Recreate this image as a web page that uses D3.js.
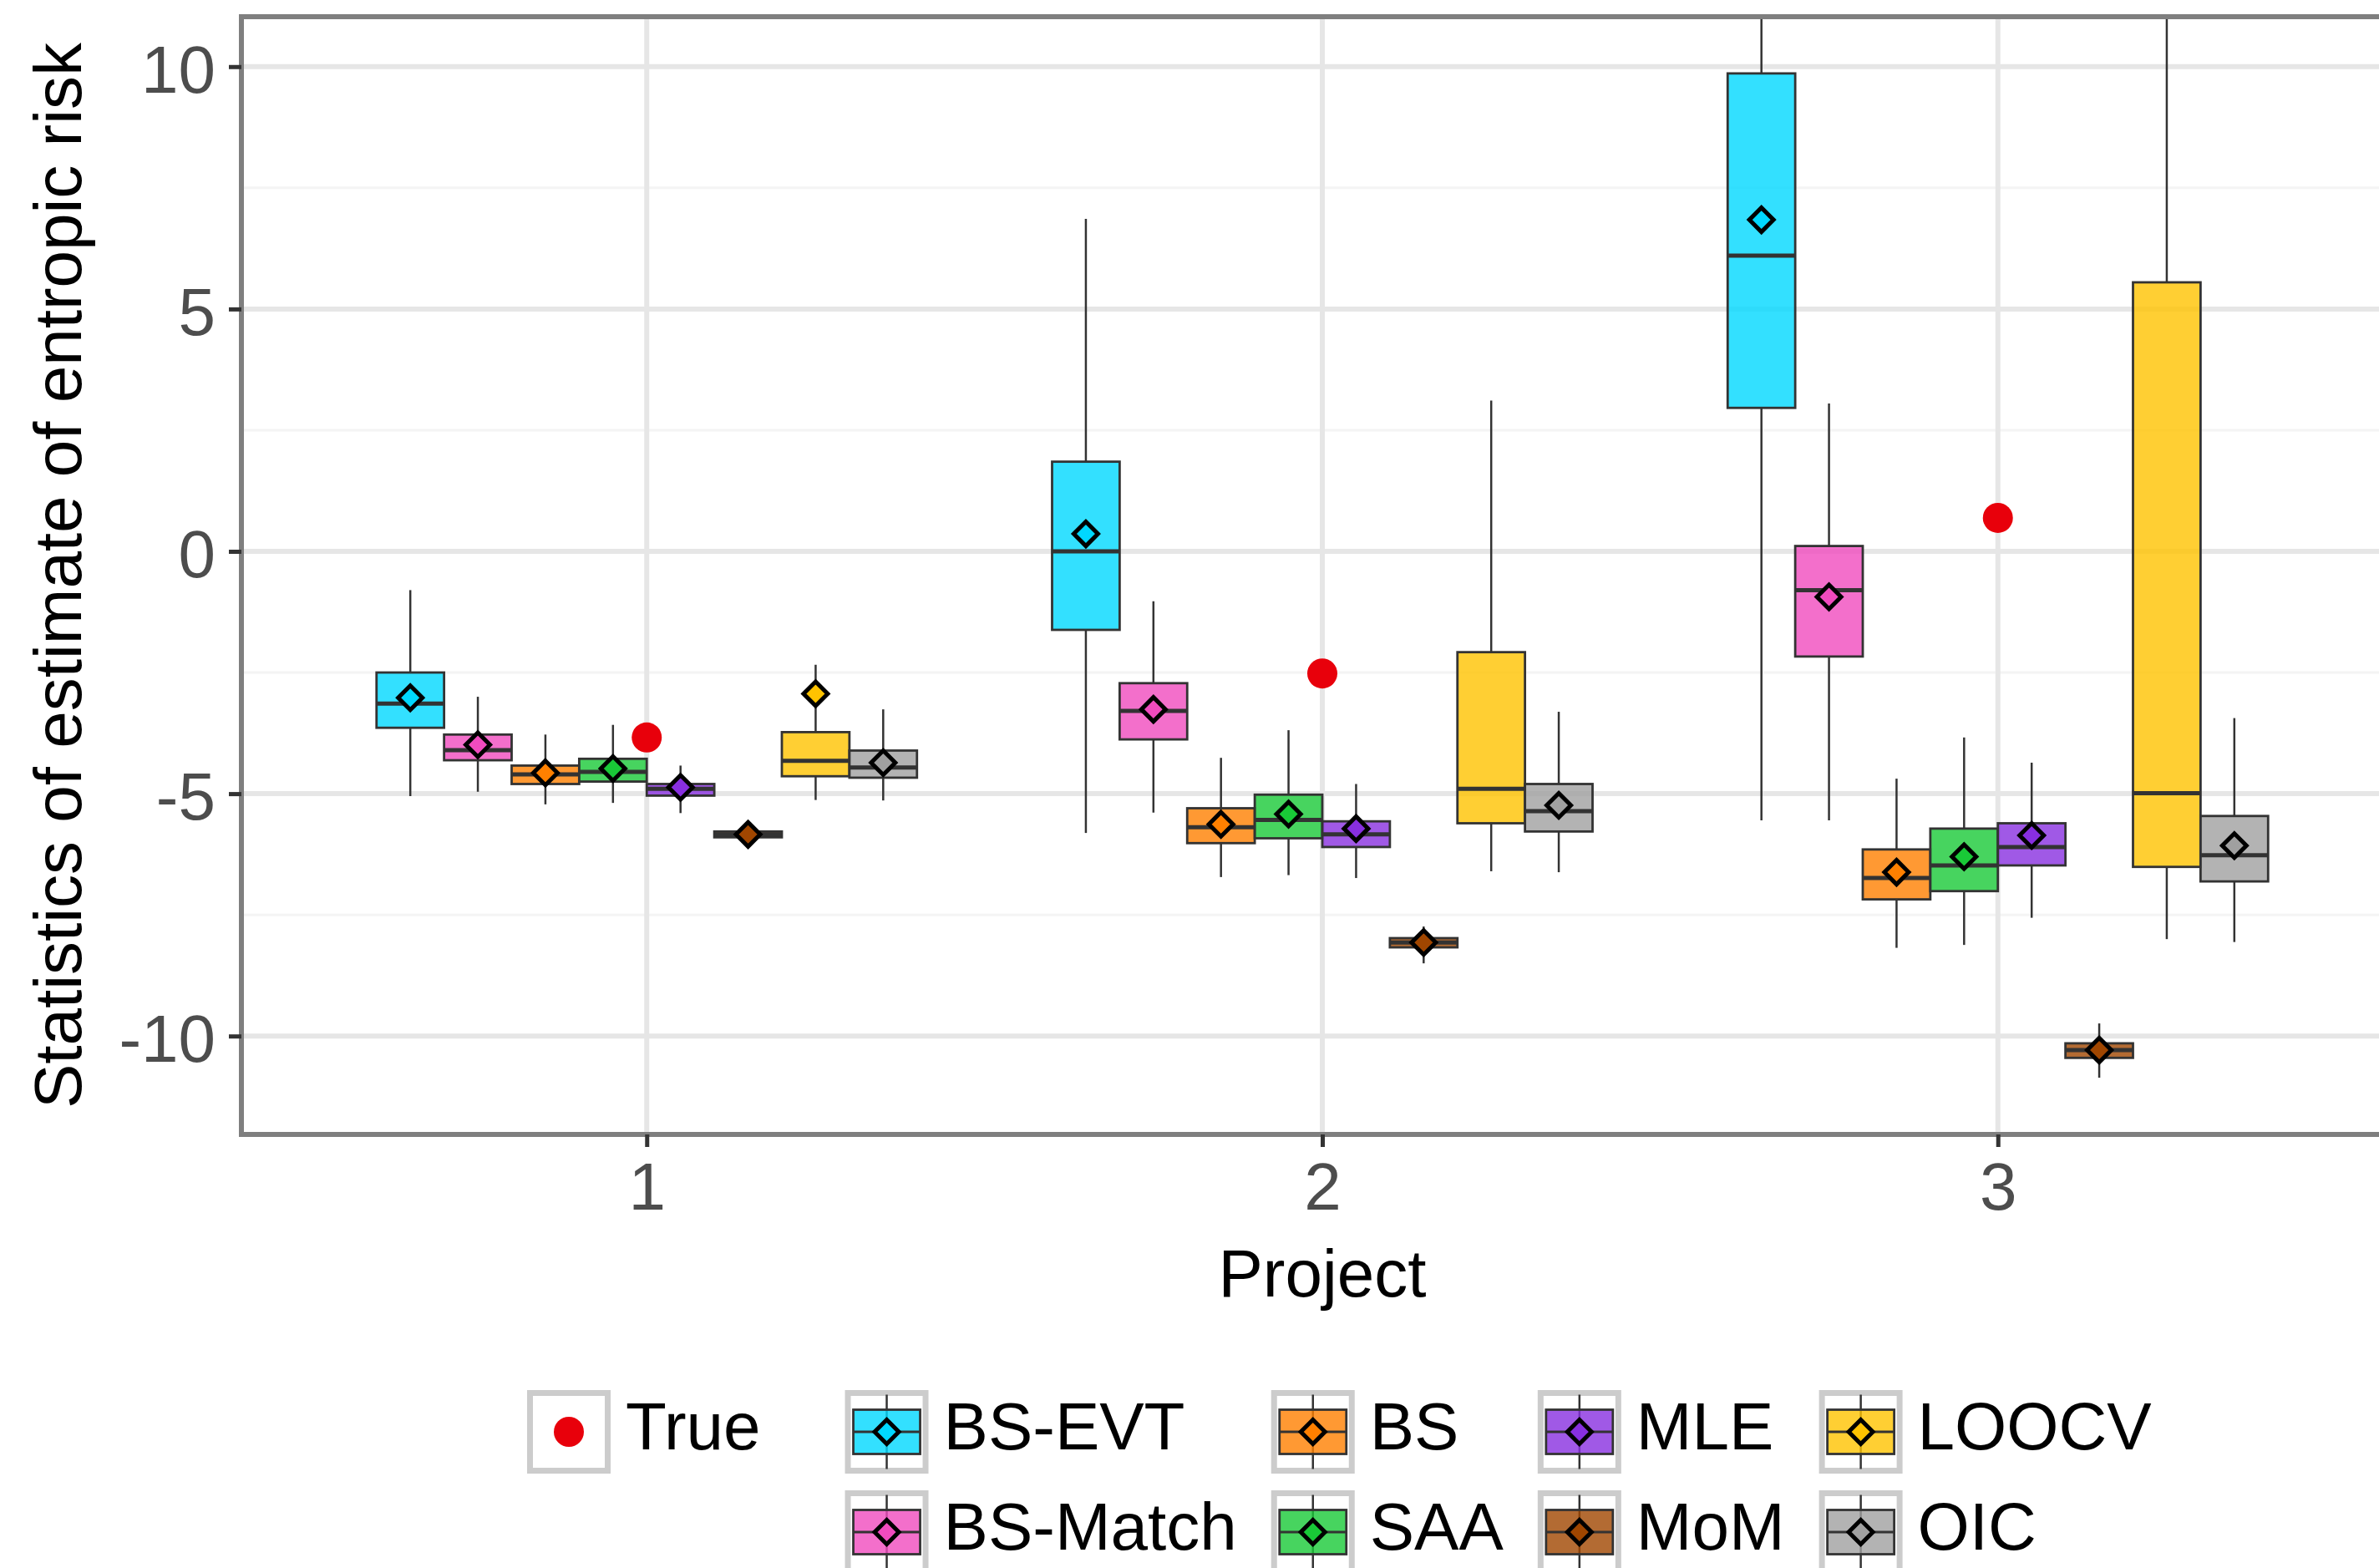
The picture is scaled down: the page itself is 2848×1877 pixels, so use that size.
<!DOCTYPE html>
<html>
<head>
<meta charset="utf-8">
<script src="https://cdn.jsdelivr.net/npm/d3@7"></script>
<style>
  body { margin: 0; background: #fff; }
  svg { display: block; font-family: "Liberation Sans", Arial, Helvetica, sans-serif; }
</style>
</head>
<body>
<figure id="box" style="margin:0"></figure>
<script>
// categories
const projects = ["1", "2", "3"];
const methods = ["BS-EVT", "BS-Match", "BS", "SAA", "MLE", "MoM", "LOOCV", "OIC"];
const methodColors = ["#00d8ff", "#f04bbe", "#ff8000", "#19c937", "#882fe0", "#a04600", "#ffc300", "#a0a0a0"];

// box statistics, one row per method, one column per project
const whiskerLow = [
  [-5.05, -5.81, -5.55],
  [-4.96, -5.39, -5.55],
  [-5.22, -6.72, -8.18],
  [-5.19, -6.68, -8.12],
  [-5.40, -6.74, -7.56],
  [-5.93, -8.50, -10.86],
  [-5.13, -6.60, -8.00],
  [-5.14, -6.62, -8.06]
];
const q1 = [
  [-3.64, -1.62, 2.96],
  [-4.31, -3.88, -2.17],
  [-4.80, -6.02, -7.18],
  [-4.75, -5.92, -7.01],
  [-5.04, -6.10, -6.48],
  [-5.90, -8.17, -10.45],
  [-4.64, -5.61, -6.51],
  [-4.67, -5.78, -6.81]
];
const median = [
  [-3.14, 0.00, 6.10],
  [-4.10, -3.29, -0.80],
  [-4.60, -5.69, -6.74],
  [-4.55, -5.54, -6.48],
  [-4.90, -5.84, -6.10],
  [-5.84, -8.07, -10.29],
  [-4.32, -4.90, -4.99],
  [-4.46, -5.36, -6.27]
];
const q3 = [
  [-2.50, 1.85, 9.86],
  [-3.78, -2.72, 0.11],
  [-4.42, -5.30, -6.15],
  [-4.28, -5.02, -5.72],
  [-4.80, -5.57, -5.61],
  [-5.78, -7.98, -10.15],
  [-3.73, -2.08, 5.55],
  [-4.11, -4.80, -5.46]
];
const whiskerHigh = [
  [-0.80, 6.86, 13.5],
  [-3.00, -1.03, 3.05],
  [-3.78, -4.26, -4.69],
  [-3.58, -3.69, -3.84],
  [-4.42, -4.80, -4.36],
  [-5.75, -7.74, -9.74],
  [-2.34, 3.11, 17.0],
  [-3.26, -3.31, -3.44]
];
// means (null = outside the visible range)
const means = [
  [-3.02, 0.36, 6.84],
  [-3.99, -3.26, -0.94],
  [-4.57, -5.63, -6.62],
  [-4.48, -5.42, -6.30],
  [-4.87, -5.72, -5.86],
  [-5.84, -8.07, -10.29],
  [-2.94, null, null],
  [-4.36, -5.24, -6.07]
];
const trueValues = [-3.84, -2.52, 0.69];

const yTicks = [-10, -5, 0, 5, 10];
const yTickLabels = ["-10", "-5", "0", "5", "10"];
const yMinor = [-7.5, -2.5, 2.5, 7.5];

const width = 2848, height = 1877;
const pLeft = 289, pTop = 20, pRight = 2877, pBottom = 1358;

const svg = d3.select("figure#box").append("svg")
  .attr("width", width)
  .attr("height", height)
  .style("overflow", "hidden");

// scales
const x = d3.scalePoint().domain(projects).range([pLeft, pRight]).padding(0.6);
const step = x.step();
const xm = d3.scaleBand().domain(methods).range([-0.4 * step, 0.4 * step]).padding(0);
const y = d3.scaleLinear().domain([-12.03, 11.03]).range([pBottom, pTop]);

svg.append("defs").append("clipPath").attr("id", "panel")
  .append("rect").attr("x", pLeft).attr("y", pTop)
  .attr("width", pRight - pLeft).attr("height", pBottom - pTop);

// grid
const grid = svg.append("g").attr("clip-path", "url(#panel)");
grid.selectAll("line.minor").data(yMinor).enter().append("line")
  .attr("x1", pLeft).attr("x2", pRight)
  .attr("y1", d => y(d)).attr("y2", d => y(d))
  .attr("stroke", "#f4f4f4").attr("stroke-width", 3);
grid.selectAll("line.majory").data(yTicks).enter().append("line")
  .attr("x1", pLeft).attr("x2", pRight)
  .attr("y1", d => y(d)).attr("y2", d => y(d))
  .attr("stroke", "#e6e6e6").attr("stroke-width", 6);
grid.selectAll("line.majorx").data(projects).enter().append("line")
  .attr("x1", d => x(d)).attr("x2", d => x(d))
  .attr("y1", pTop).attr("y2", pBottom)
  .attr("stroke", "#e6e6e6").attr("stroke-width", 6);

// build boxes from the arrays
const boxes = [];
methods.forEach((m, i) => {
  projects.forEach((p, j) => {
    boxes.push({
      method: m, project: p, color: methodColors[i],
      lo: whiskerLow[i][j], q1: q1[i][j], med: median[i][j],
      q3: q3[i][j], hi: whiskerHigh[i][j], mean: means[i][j]
    });
  });
});

const plot = svg.append("g").attr("clip-path", "url(#panel)");
const bw = xm.bandwidth();
const cx = d => x(d.project) + xm(d.method) + bw / 2;

const g = plot.selectAll("g.box").data(boxes).enter().append("g");
g.append("line")
  .attr("x1", cx).attr("x2", cx)
  .attr("y1", d => y(d.hi)).attr("y2", d => y(d.q3))
  .attr("stroke", "#333").attr("stroke-width", 2.5);
g.append("line")
  .attr("x1", cx).attr("x2", cx)
  .attr("y1", d => y(d.q1)).attr("y2", d => y(d.lo))
  .attr("stroke", "#333").attr("stroke-width", 2.5);
g.append("rect")
  .attr("x", d => cx(d) - bw / 2)
  .attr("y", d => y(d.q3))
  .attr("width", bw)
  .attr("height", d => y(d.q1) - y(d.q3))
  .attr("fill", d => d.color).attr("fill-opacity", 0.8)
  .attr("stroke", "#333").attr("stroke-width", 2.8);
g.append("line")
  .attr("x1", d => cx(d) - bw / 2).attr("x2", d => cx(d) + bw / 2)
  .attr("y1", d => y(d.med)).attr("y2", d => y(d.med))
  .attr("stroke", "#333").attr("stroke-width", 5);

// means as diamonds
const diamond = r => `M0,${-r}L${r},0L0,${r}L${-r},0Z`;
plot.selectAll("path.mean").data(boxes.filter(d => d.mean !== null)).enter().append("path")
  .attr("d", diamond(14.5))
  .attr("transform", d => `translate(${cx(d)},${y(d.mean)})`)
  .attr("fill", d => d.color)
  .attr("stroke", "#000").attr("stroke-width", 5).attr("stroke-linejoin", "miter");

// true values
plot.selectAll("circle.true").data(trueValues).enter().append("circle")
  .attr("cx", (d, j) => x(projects[j]))
  .attr("cy", d => y(d))
  .attr("r", 18)
  .attr("fill", "#e8000b");

// panel border
svg.append("rect")
  .attr("x", pLeft).attr("y", pTop)
  .attr("width", pRight - pLeft).attr("height", pBottom - pTop)
  .attr("fill", "none").attr("stroke", "#7f7f7f").attr("stroke-width", 6);

// axes
const yAxis = svg.append("g")
  .attr("transform", `translate(${pLeft},0)`)
  .call(d3.axisLeft(y).tickValues(yTicks).tickSize(15).tickPadding(16)
    .tickFormat((d, i) => yTickLabels[i]));
const xAxis = svg.append("g")
  .attr("transform", `translate(0,${pBottom})`)
  .call(d3.axisBottom(x).tickSize(15).tickPadding(18));
[yAxis, xAxis].forEach(a => {
  a.select(".domain").remove();
  a.selectAll(".tick line").attr("stroke", "#333").attr("stroke-width", 5);
  a.selectAll(".tick text")
    .attr("fill", "#4d4d4d")
    .style("font-size", "80px")
    .style("font-family", "'Liberation Sans', Arial, sans-serif");
});
yAxis.selectAll(".tick text").attr("dy", "0.38em");

// axis titles
svg.append("text")
  .attr("x", (pLeft + pRight) / 2).attr("y", 1552)
  .attr("text-anchor", "middle")
  .style("font-size", "80px")
  .text("Project");
svg.append("text")
  .attr("transform", `translate(97,${(pTop + pBottom) / 2}) rotate(-90)`)
  .attr("text-anchor", "middle")
  .style("font-size", "80px")
  .text("Statistics of estimate of entropic risk");

// legends
const keySize = 93, keyStroke = 7;
const rowY = [1714, 1834];
const legend = svg.append("g");

function keyFrame(x0, cy) {
  legend.append("rect")
    .attr("x", x0 + keyStroke / 2).attr("y", cy - keySize / 2)
    .attr("width", keySize).attr("height", keySize)
    .attr("fill", "#fff").attr("stroke", "#cccccc").attr("stroke-width", keyStroke);
}
function label(x0, cy, txt) {
  return legend.append("text")
    .attr("x", x0 + 118).attr("y", cy + 21)
    .style("font-size", "80px")
    .text(txt);
}

// "True" legend
let lx = 631;
keyFrame(lx, rowY[0]);
legend.append("circle")
  .attr("cx", lx + 50).attr("cy", rowY[0]).attr("r", 18).attr("fill", "#e8000b");
const trueLab = label(lx, rowY[0], "True");
lx = lx + 118 + trueLab.node().getComputedTextLength() + 101;

// method legend, 2 rows, filled by column
const nCols = Math.ceil(methods.length / 2);
for (let c = 0; c < nCols; c++) {
  let maxW = 0;
  for (let r = 0; r < 2; r++) {
    const i = c * 2 + r;
    if (i >= methods.length) continue;
    const cy = rowY[r], kc = lx + 50;
    keyFrame(lx, cy);
    legend.append("line")
      .attr("x1", kc).attr("x2", kc)
      .attr("y1", cy - keySize / 2 + 2).attr("y2", cy + keySize / 2 - 2)
      .attr("stroke", "#333").attr("stroke-width", 2.5);
    legend.append("rect")
      .attr("x", kc - 40).attr("y", cy - 26.5)
      .attr("width", 80).attr("height", 53)
      .attr("fill", methodColors[i]).attr("fill-opacity", 0.8)
      .attr("stroke", "#333").attr("stroke-width", 2.8);
    legend.append("line")
      .attr("x1", kc - 40).attr("x2", kc + 40)
      .attr("y1", cy).attr("y2", cy)
      .attr("stroke", "#333").attr("stroke-width", 3);
    legend.append("path")
      .attr("d", diamond(14.5))
      .attr("transform", `translate(${kc},${cy})`)
      .attr("fill", methodColors[i])
      .attr("stroke", "#000").attr("stroke-width", 5);
    const t = label(lx, cy, methods[i]);
    maxW = Math.max(maxW, t.node().getComputedTextLength());
  }
  lx = lx + 118 + maxW + 41;
}
</script>
</body>
</html>
